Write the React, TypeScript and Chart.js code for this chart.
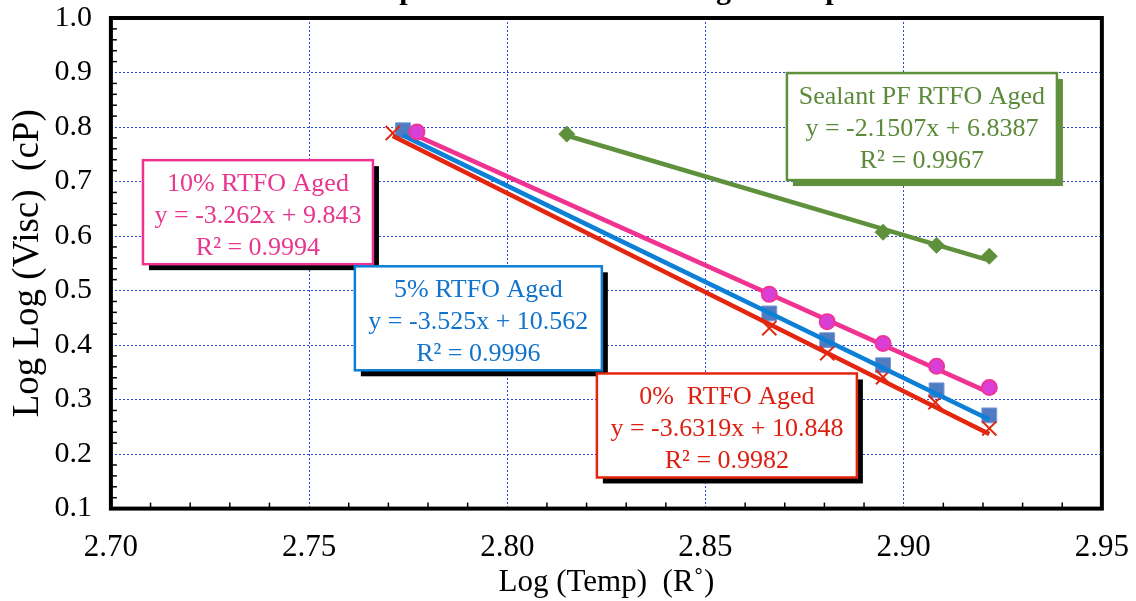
import React, { useEffect, useRef } from "react";
import { Chart, registerables } from "chart.js";

Chart.register(...registerables);

// ---------- data ----------
const TITLE = "Comparison of Sealant and Aged Samples";
const X_TITLE = "Log (Temp)  (R\u02DA)";
const Y_TITLE = "Log Log (Visc)  (cP)";

const X_TICKS = [2.7, 2.75, 2.8, 2.85, 2.9, 2.95];
const Y_TICKS = [0.1, 0.2, 0.3, 0.4, 0.5, 0.6, 0.7, 0.8, 0.9, 1.0];

const SERIES_NAMES = ["0%  RTFO Aged", "5% RTFO Aged", "10% RTFO Aged", "Sealant PF RTFO Aged"];

const X_0 = [2.7711, 2.8661, 2.8807, 2.8948, 2.9080, 2.9216];
const Y_0 = [0.789, 0.431, 0.385, 0.341, 0.295, 0.247];

const X_5 = [2.7737, 2.8661, 2.8807, 2.8948, 2.9083, 2.9216];
const Y_5 = [0.794, 0.458, 0.409, 0.363, 0.317, 0.271];

const X_10 = [2.7772, 2.8661, 2.8807, 2.8948, 2.9083, 2.9216];
const Y_10 = [0.791, 0.493, 0.443, 0.403, 0.361, 0.322];

const X_PF = [2.815, 2.8948, 2.9083, 2.9216];
const Y_PF = [0.787, 0.607, 0.583, 0.563];

const SLOPES = [-3.6319, -3.525, -3.262, -2.1507];
const INTERCEPTS = [10.848, 10.562, 9.843, 6.8387];
const R2 = ["0.9982", "0.9996", "0.9994", "0.9967"];

// ---------- styles ----------
const FONT = "'Liberation Serif', 'Times New Roman', serif";
const COLORS = ["#e3260f", "#0c7fd6", "#f03392", "#5f913c"];
const TEXT_COLORS = ["#dc1f10", "#1273cc", "#e8358e", "#5b8a3a"];
const SHADOWS = ["#000000", "#000000", "#000000", "#5f913c"];
// annotation box placement (data coords of centre-x / top-y) and pixel size
const BOXES = [
  { cx: 2.8554, top: 0.3479, w: 260, h: 104 },
  { cx: 2.7927, top: 0.5445, w: 247, h: 104 },
  { cx: 2.7371, top: 0.7392, w: 230, h: 104 },
  { cx: 2.9046, top: 0.899, w: 270, h: 107 },
];
const BOX_DRAW_ORDER = [2, 1, 0, 3];

const SERIES_X = [X_0, X_5, X_10, X_PF];
const SERIES_Y = [Y_0, Y_5, Y_10, Y_PF];

const MARKERS = [
  { pointStyle: "crossRot", pointRadius: 10, backgroundColor: COLORS[0], borderColor: COLORS[0], borderWidth: 2, order: 2 },
  { pointStyle: "rect", pointRadius: 10.5, backgroundColor: "#4e7bc2", borderColor: "#7b98d6", borderWidth: 1, order: 2 },
  { pointStyle: "circle", pointRadius: 7.5, backgroundColor: "#d93ed6", borderColor: "#f0359a", borderWidth: 2, order: 0 },
  { pointStyle: "rectRot", pointRadius: 8, backgroundColor: COLORS[3], borderColor: COLORS[3], borderWidth: 1, order: 2 },
];

const overlayPlugin = {
  id: "overlay",
  afterDatasetsDraw(chart: any) {
    const { ctx, chartArea, scales } = chart;
    const xs = scales.x;
    const ys = scales.y;
    ctx.save();
    // minor ticks (inside)
    ctx.strokeStyle = "#000";
    ctx.lineWidth = 1.5;
    ctx.setLineDash([]);
    for (let k = 1; k < 25; k++) {
      if (k % 5 === 0) continue;
      const px = xs.getPixelForValue(2.7 + k * 0.01);
      ctx.beginPath();
      ctx.moveTo(px, chartArea.bottom);
      ctx.lineTo(px, chartArea.bottom - 6);
      ctx.stroke();
    }
    for (let k = 1; k < 45; k++) {
      if (k % 5 === 0) continue;
      const py = ys.getPixelForValue(0.1 + k * 0.02);
      ctx.beginPath();
      ctx.moveTo(chartArea.left, py);
      ctx.lineTo(chartArea.left + 6, py);
      ctx.stroke();
    }
    // annotation boxes
    for (const i of BOX_DRAW_ORDER) {
      const b = BOXES[i];
      const cx = xs.getPixelForValue(b.cx);
      const top = ys.getPixelForValue(b.top);
      const left = cx - b.w / 2;
      ctx.fillStyle = SHADOWS[i];
      ctx.fillRect(left + 6, top + 6, b.w, b.h);
      ctx.fillStyle = "#ffffff";
      ctx.fillRect(left, top, b.w, b.h);
      ctx.strokeStyle = COLORS[i];
      ctx.lineWidth = 2.5;
      ctx.strokeRect(left, top, b.w, b.h);
      ctx.fillStyle = TEXT_COLORS[i];
      ctx.font = `26px ${FONT}`;
      ctx.textAlign = "center";
      ctx.textBaseline = "middle";
      const lines = [
        SERIES_NAMES[i],
        `y = ${SLOPES[i]}x + ${INTERCEPTS[i]}`,
        `R\u00B2 = ${R2[i]}`,
      ];
      lines.forEach((t, j) => ctx.fillText(t, cx, top + 24 + j * 32));
    }
    // plot frame
    ctx.strokeStyle = "#000";
    ctx.lineWidth = 4;
    ctx.strokeRect(chartArea.left, chartArea.top, chartArea.right - chartArea.left, chartArea.bottom - chartArea.top);
    ctx.restore();
  },
};

const CANVAS_W = 1150;
const CANVAS_H = 641;

export default function App() {
  const ref = useRef<HTMLCanvasElement | null>(null);
  useEffect(() => {
    if (!ref.current) return;
    const datasets: any[] = [];
    for (let i = 0; i < 4; i++) {
      const xsArr = SERIES_X[i];
      const ysArr = SERIES_Y[i];
      const x0 = Math.min(...xsArr);
      const x1 = Math.max(...xsArr);
      datasets.push({
        type: "line",
        label: SERIES_NAMES[i] + " trend",
        data: [
          { x: x0, y: SLOPES[i] * x0 + INTERCEPTS[i] },
          { x: x1, y: SLOPES[i] * x1 + INTERCEPTS[i] },
        ],
        borderColor: COLORS[i],
        borderWidth: 4.5,
        pointRadius: 0,
        fill: false,
        order: 1,
      });
      datasets.push({
        type: "scatter",
        label: SERIES_NAMES[i],
        data: xsArr.map((x, j) => ({ x, y: ysArr[j] })),
        showLine: false,
        ...MARKERS[i],
        pointHoverRadius: MARKERS[i].pointRadius,
      });
    }
    const chart = new Chart(ref.current, {
      type: "scatter",
      data: { datasets },
      options: {
        animation: false,
        responsive: false,
        devicePixelRatio: 1,
        layout: { padding: { left: 0, right: 0, top: 0, bottom: 0 } },
        plugins: {
          legend: { display: false },
          tooltip: { enabled: false },
          title: {
            display: true,
            text: TITLE,
            fullSize: false,
            color: "#000",
            font: { family: FONT, size: 30, weight: "bold" },
            padding: { top: 13, bottom: 9 },
          },
        },
        scales: {
          x: {
            type: "linear",
            min: 2.7,
            max: 2.95,
            afterBuildTicks: (axis: any) => {
              axis.ticks = X_TICKS.map((v) => ({ value: v }));
            },
            ticks: {
              callback: (v: any) => Number(v).toFixed(2),
              color: "#000",
              font: { family: FONT, size: 31 },
              padding: 21,
              maxRotation: 0,
              autoSkip: false,
            },
            grid: { color: "#2a48dc", lineWidth: 1, drawTicks: false },
            border: { display: false, dash: [2, 2] },
            title: {
              display: true,
              text: X_TITLE,
              color: "#000",
              font: { family: FONT, size: 31 },
              padding: { top: -24, bottom: 0 },
            },
          },
          y: {
            type: "linear",
            min: 0.1,
            max: 1.0,
            afterBuildTicks: (axis: any) => {
              axis.ticks = Y_TICKS.map((v) => ({ value: v }));
            },
            ticks: {
              callback: (v: any) => Number(v).toFixed(1),
              color: "#000",
              font: { family: FONT, size: 30 },
              padding: 19,
              autoSkip: false,
            },
            grid: { color: "#2a48dc", lineWidth: 1, drawTicks: false },
            border: { display: false, dash: [2, 2] },
            title: {
              display: true,
              text: Y_TITLE,
              color: "#000",
              font: { family: FONT, size: 37 },
              padding: { top: 6, bottom: -15 },
            },
          },
        },
      },
      plugins: [overlayPlugin],
    } as any);
    return () => chart.destroy();
  }, []);

  return (
    <div
      style={{
        position: "absolute",
        left: 0,
        top: 0,
        width: 1136,
        height: 601,
        overflow: "hidden",
        background: "#fff",
      }}
    >
      <canvas
        ref={ref}
        width={CANVAS_W}
        height={CANVAS_H}
        style={{ width: CANVAS_W, height: CANVAS_H, display: "block", marginTop: -40 }}
      />
    </div>
  );
}
